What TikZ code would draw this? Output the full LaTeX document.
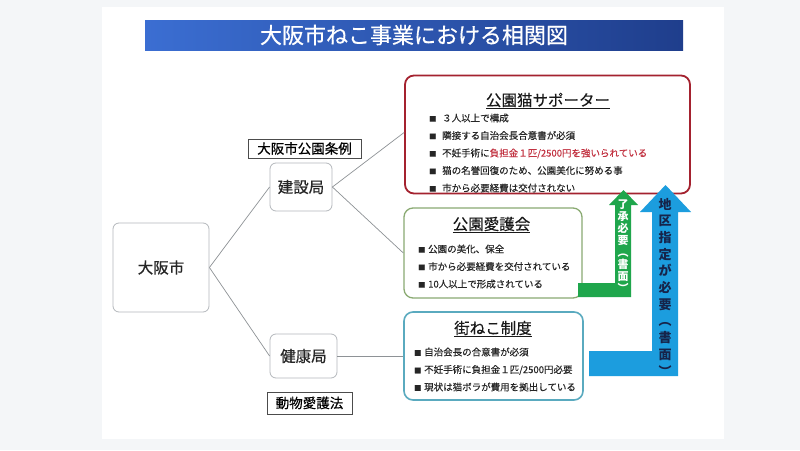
\documentclass[tikz,border=0pt]{standalone}
\usepackage{fontspec}
\setmainfont{Noto Sans CJK JP}
\newfontface\medjp{Noto Sans CJK JP}[RawFeature={embolden=0.5}]
\newfontface\listjp{Noto Sans CJK JP}[RawFeature={embolden=0.3}]
\usepackage{xcolor}
\definecolor{pagegray}{HTML}{F4F6F8}
\definecolor{barleft}{HTML}{3B6ED2}
\definecolor{barright}{HTML}{1F3E8C}
\definecolor{boxgray}{HTML}{B4B8BC}
\definecolor{linkgray}{HTML}{8E9296}
\definecolor{catred}{HTML}{A4222F}
\definecolor{redtext}{HTML}{C23342}
\definecolor{parkgreen}{HTML}{8AAA72}
\definecolor{streetteal}{HTML}{5AAABF}
\definecolor{arrowgreen}{HTML}{1FA64C}
\definecolor{arrowblue}{HTML}{1C9DDE}
\definecolor{navytext}{HTML}{16244A}
\tikzset{>=latex,
	office/.style={draw=boxgray, line width=0.8pt, rounded corners=6pt, fill=white, text=black!85},
	lawtag/.style={draw=black!70, line width=0.6pt, fill=white, inner sep=0pt, font=\medjp\fontsize{13.5}{14}\selectfont},
	group/.style={rounded corners=9pt, fill=white, inner sep=0pt},
	grouptitle/.style={font=\listjp\fontsize{15.5}{16}\selectfont, text=black!90},
	points/.style={align=left, anchor=west, inner sep=0pt, font=\listjp\fontsize{9.5}{17.5}\selectfont, text=black!85},
	link/.style={draw=linkgray, line width=0.7pt},
	tate/.style={align=center, inner sep=0pt, font=\bfseries}
}
\newcommand{\bul}{\makebox[13pt][l]{\fontsize{7}{7}\selectfont ■}}

\begin{document}
\begin{tikzpicture}[x=1pt,y=-1pt]
\useasboundingbox (0,0) rectangle (800,450);
\fill[pagegray] (0,0) rectangle (800,450);
\fill[white] (102,7) rectangle (724,439);

	\node[left color=barleft, right color=barright, minimum width=538pt, minimum height=30pt, inner sep=0pt,
		text=white, font=\medjp\fontsize{22}{22}\selectfont] (head) at (414,35) {大阪市ねこ事業における相関図};

	\node[office, minimum width=96pt, minimum height=89pt, font=\medjp\fontsize{15.5}{16}\selectfont] (osaka) at (161,267.5) {大阪市};
	\node[office, minimum width=62pt, minimum height=48pt, font=\medjp\fontsize{15.5}{16}\selectfont] (kensetsu) at (301,187) {建設局};
	\node[office, minimum width=67pt, minimum height=44pt, font=\medjp\fontsize{15.5}{16}\selectfont] (kenko) at (303.5,356) {健康局};

	\node[lawtag, minimum width=113pt, minimum height=19pt] (jorei) at (304.5,148.5) {大阪市公園条例};
	\node[lawtag, minimum width=85pt, minimum height=22pt] (aigo) at (309.5,403) {動物愛護法};

	% three groups
	\node[group, draw=catred, line width=1.8pt, minimum width=285pt, minimum height=118pt] (supporter) at (547.5,134.5) {};
	\node[grouptitle] (supporterT) at (548,101) {\underline{公園猫サポーター}};
	\node[points] (supporterL) at (429,153) {\bul ３人以上で構成\\
		\bul 隣接する自治会長合意書が必須\\
		\bul 不妊手術に\textcolor{redtext}{負担金１匹/2500円を強いられている}\\
		\bul 猫の名誉回復のため、公園美化に努める事\\
		\bul 市から必要経費は交付されない};

	\node[group, draw=parkgreen, line width=1.3pt, minimum width=178pt, minimum height=90pt] (park) at (493,253) {};
	\node[grouptitle] (parkT) at (491.5,225) {\underline{公園愛護会}};
	\node[points] (parkL) at (418,266.5) {\makebox[10pt][l]{\fontsize{7}{7}\selectfont ■}公園の美化、保全\\
		\makebox[10pt][l]{\fontsize{7}{7}\selectfont ■}市から必要経費を交付されている\\
		\makebox[10pt][l]{\fontsize{7}{7}\selectfont ■}10人以上で形成されている};

	\node[group, draw=streetteal, line width=1.6pt, minimum width=179pt, minimum height=88pt] (street) at (493.5,356) {};
	\node[grouptitle] (streetT) at (493,329) {\underline{街ねこ制度}};
	\node[points] (streetL) at (414,369.5) {\makebox[10pt][l]{\fontsize{7}{7}\selectfont ■}自治会長の合意書が必須\\
		\makebox[10pt][l]{\fontsize{7}{7}\selectfont ■}不妊手術に負担金１匹/2500円必要\\
		\makebox[10pt][l]{\fontsize{7}{7}\selectfont ■}現状は猫ボラが費用を拠出している};

	\draw[link] (osaka.east) -- (kensetsu.west);
	\draw[link] (osaka.east) -- (kenko.west);
	\draw[link] (kensetsu.east) -- ([yshift=2pt]supporter.west);
	\draw[link] (kensetsu.east) -- (park.west);
	\draw[link] (kenko.east) -- (street.west);

	% arrows
	\fill[arrowgreen] (578,297)--(631,297)--(631,205)--(638,205)--(623.5,190)--(609,205)--(615,205)--(615,283)--(578,283)--cycle;
	\fill[arrowblue] (589,376)--(678,376)--(678,212)--(691,212)--(665.5,185)--(640,212)--(652,212)--(652,351)--(589,351)--cycle;

	\node[tate, text=white, font=\bfseries\fontsize{11}{12.1}\selectfont] (shonin) at (623,246) {了\\承\\必\\要\\︵\\書\\面\\︶};
	\node[tate, text=navytext, font=\bfseries\fontsize{13}{16.7}\selectfont] (chiku) at (665,287) {地\\区\\指\\定\\が\\必\\要\\︵\\書\\面\\︶};
\end{tikzpicture}
\end{document}
